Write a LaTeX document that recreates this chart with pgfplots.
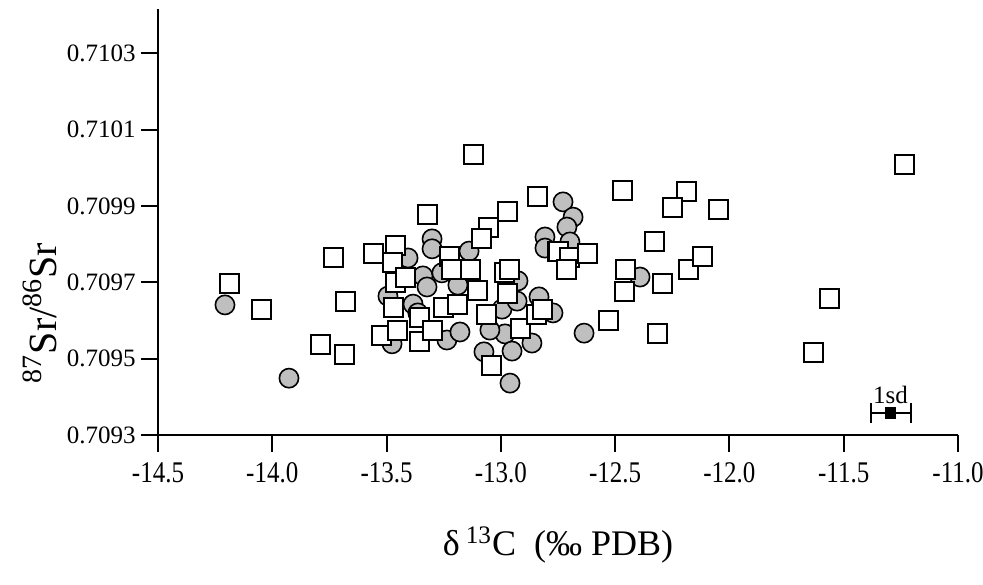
\documentclass[border=0pt]{standalone}
\usepackage{fontspec}
\setmainfont{Liberation Serif}
\usepackage{graphicx}
\usepackage{pgfplots}
\usepackage{pgfplotstable}
\pgfplotsset{compat=1.18}
\pgfplotstableread{
x y
-14.207 0.709641
-13.927 0.709449
-13.301 0.709814
-13.301 0.709788
-13.406 0.709764
-13.341 0.709717
-13.258 0.709725
-13.323 0.709688
-13.188 0.709693
-13.494 0.709664
-13.384 0.709643
-13.363 0.709620
-13.476 0.709539
-13.236 0.709549
-13.179 0.709570
-13.139 0.709782
-13.074 0.709518
-12.995 0.709630
-12.982 0.709565
-12.951 0.709520
-12.960 0.709436
-12.925 0.709704
-12.929 0.709651
-12.864 0.709541
-12.833 0.709662
-12.807 0.709819
-12.807 0.709790
-12.728 0.709911
-12.684 0.709871
-12.711 0.709845
-12.698 0.709806
-13.048 0.709575
-12.772 0.709620
-12.636 0.709567
-12.391 0.709714
}\circles
\pgfplotstableread{
x y
-14.189 0.709698
-14.049 0.709628
-13.734 0.709764
-13.791 0.709536
-13.678 0.709651
-13.686 0.709510
-13.559 0.709777
-13.463 0.709798
-13.319 0.709877
-13.118 0.710034
-13.056 0.709843
-13.083 0.709816
-12.973 0.709887
-12.838 0.709926
-13.472 0.709751
-13.459 0.709701
-13.415 0.709714
-13.468 0.709633
-13.524 0.709562
-13.450 0.709575
-13.358 0.709607
-13.358 0.709544
-13.297 0.709575
-13.249 0.709633
-13.188 0.709641
-13.223 0.709769
-13.214 0.709733
-13.131 0.709733
-13.100 0.709680
-13.061 0.709615
-13.039 0.709483
-12.986 0.709725
-12.964 0.709733
-12.969 0.709672
-12.912 0.709580
-12.842 0.709615
-12.816 0.709628
-12.470 0.709942
-12.750 0.709780
-12.698 0.709764
-12.619 0.709777
-12.715 0.709735
-12.453 0.709733
-12.461 0.709677
-12.531 0.709599
-12.186 0.709937
-12.251 0.709895
-12.050 0.709892
-12.326 0.709806
-12.291 0.709698
-12.181 0.709733
-12.120 0.709767
-12.313 0.709567
-11.564 0.709659
-11.634 0.709515
-11.236 0.710008
}\squares
\begin{document}
\begin{tikzpicture}
\begin{axis}[
  scale only axis, width=400pt, height=213pt,
  xmin=-14.5, xmax=-11.0, ymin=0.7093, ymax=0.7104166,
  axis lines=left, axis line style={-, line width=1pt},
  every tick/.style={black, line width=1pt},
  tick align=outside, major tick length=8.5pt,
  xtick={-14.5,-14.0,-13.5,-13.0,-12.5,-12.0,-11.5,-11.0},
  xticklabels={\scalebox{1}[1.2]{-14.5},\scalebox{1}[1.2]{-14.0},\scalebox{1}[1.2]{-13.5},\scalebox{1}[1.2]{-13.0},\scalebox{1}[1.2]{-12.5},\scalebox{1}[1.2]{-12.0},\scalebox{1}[1.2]{-11.5},\scalebox{1}[1.2]{-11.0}},
  ytick={0.7093,0.7095,0.7097,0.7099,0.7101,0.7103},
  yticklabels={0.7093,0.7095,0.7097,0.7099,0.7101,0.7103},
  xticklabel style={font=\fontsize{12.5}{15}\selectfont, inner sep=0pt, yshift=-5pt},
  yticklabel style={font=\fontsize{12.5}{15}\selectfont, inner sep=0pt, xshift=-2.5pt},
  xlabel={δ\,\textsuperscript{13}C\enspace(‰ PDB)},
  xlabel style={at={(rel axis cs:0.5,-0.258)}, anchor=center, font=\fontsize{18}{20}\selectfont},
  ylabel={\textsuperscript{87}Sr/\textsuperscript{86}Sr},
  ylabel style={at={(rel axis cs:-0.1475,0.2864)}, anchor=center, font=\fontsize{20}{22}\selectfont},
  clip=false,
]
\addplot[only marks, mark=*, mark size=4.8pt, mark options={fill=gray!50, draw=black, line width=0.8pt}] table[x=x,y=y] {\circles};
\addplot[only marks, mark=square*, mark size=4.75pt, mark options={fill=white, draw=black, line width=1pt}] table[x=x,y=y] {\squares};
\addplot[only marks, mark=square*, mark size=2.6pt, black,
  error bars/.cd, x dir=both, x explicit,
  error bar style={line width=1pt},
  error mark options={rotate=90, mark size=5pt, line width=1pt}]
  coordinates {(-11.295,0.709358) +- (0.0875,0)};
\node[font=\fontsize{12.5}{15}\selectfont] at (axis cs:-11.295,0.709405) {1sd};
\coordinate (bl) at (rel axis cs:-0.1975,-0.34977);
\coordinate (tr) at (rel axis cs:1.03125,1.02113);
\end{axis}
\pgfresetboundingbox
\useasboundingbox (bl) rectangle (tr);
\end{tikzpicture}
\end{document}
